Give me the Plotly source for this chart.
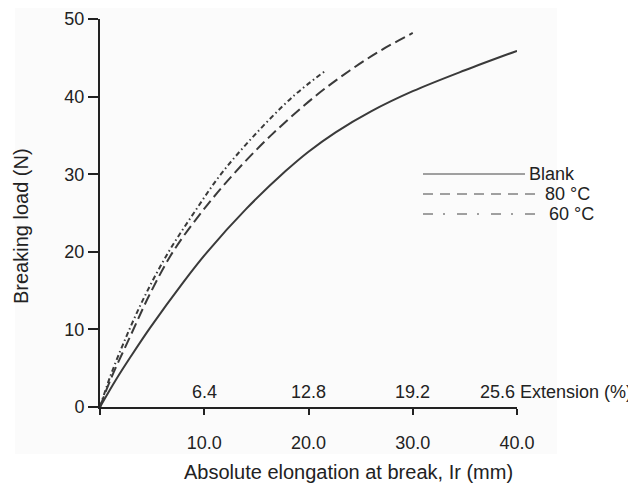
import plotly.graph_objects as go

# ---- data ----
blank_x = [0, 1.5, 3.0, 4.8, 8.0, 10.3, 14.0, 17.8, 20.0, 22.6, 26.0, 30.0, 35.0, 40.0]
blank_y = [0, 3.45, 6.6, 10.2, 16.1, 20.0, 25.5, 30.4, 32.9, 35.4, 38.1, 40.7, 43.4, 45.9]

c80_x = [0, 1.0, 3.0, 4.8, 7.0, 9.8, 12.8, 16.4, 20.6, 24.0, 27.0, 30.0]
c80_y = [0, 3.5, 9.4, 14.6, 20.0, 25.2, 30.0, 35.0, 40.0, 43.4, 46.0, 48.2]

c60_x = [0, 1.0, 2.5, 4.3, 6.5, 9.0, 11.6, 14.8, 18.5, 21.5]
c60_y = [0, 4.0, 9.0, 14.3, 19.8, 25.0, 30.0, 35.0, 40.0, 43.2]

x_ticks = [0, 10, 20, 30, 40]
x_tick_labels = ["", "10.0", "20.0", "30.0", "40.0"]
ext_ticks = [10, 20, 30]
ext_labels = ["6.4", "12.8", "19.2"]
ext_last_label = "25.6 Extension (%)"
y_ticks = [0, 10, 20, 30, 40, 50]

legend_names = ["Blank", "80 °C", "60 °C"]

FONT = "Liberation Sans, Arial, Helvetica, sans-serif"
INK = "#222222"
LINE = "#3a3a3a"

# page body has an 8px default margin; plot area in the page: x 100..517, y 19..407
PAGE_OFF = 8
PX0, PX1, PY0, PY1 = 100, 517, 19, 407
W, H = 636 - PAGE_OFF, 483 - PAGE_OFF


def px(xp):
    return (xp - PX0) / (PX1 - PX0)


def py(yp):
    return (PY1 - yp) / (PY1 - PY0)


fig = go.Figure()
fig.add_trace(go.Scatter(x=blank_x, y=blank_y, mode="lines", name=legend_names[0],
                         line=dict(color=LINE, width=2, shape="spline", smoothing=1.0)))
fig.add_trace(go.Scatter(x=c80_x, y=c80_y, mode="lines", name=legend_names[1],
                         line=dict(color=LINE, width=2, dash="11px,5px", shape="spline", smoothing=1.0)))
fig.add_trace(go.Scatter(x=c60_x, y=c60_y, mode="lines", name=legend_names[2],
                         line=dict(color=LINE, width=2, dash="5px,3px,1.5px,3px", shape="spline", smoothing=1.0)))

annotations = []
# secondary (extension %) labels above the x axis
for xv, lab in zip(ext_ticks, ext_labels):
    annotations.append(dict(x=xv, y=py(392), xref="x", yref="paper", text=lab, showarrow=False,
                            xanchor="center", yanchor="middle",
                            font=dict(family=FONT, size=18, color=INK)))
annotations.append(dict(x=36.25, y=py(392), xref="x", yref="paper", text=ext_last_label, showarrow=False,
                        xanchor="left", yanchor="middle",
                        font=dict(family=FONT, size=18, color=INK)))
# axis titles
annotations.append(dict(x=px(348), y=py(472), xref="paper", yref="paper",
                        text="Absolute elongation at break, Ir (mm)", showarrow=False,
                        xanchor="center", yanchor="middle",
                        font=dict(family=FONT, size=20, color=INK)))
annotations.append(dict(x=px(21), y=py(226), xref="paper", yref="paper",
                        text="Breaking load (N)", showarrow=False, textangle=-90,
                        xanchor="center", yanchor="middle",
                        font=dict(family=FONT, size=20, color=INK)))

# hand-drawn style legend
leg_y = [py(174), py(194), py(214)]
leg_x0 = px(423)
leg_x1 = [px(525), px(542), px(542)]
leg_tx = [px(527), px(543), px(547)]
leg_dash = ["solid", "10px,7px", "10px,10px,2px,12px"]
shapes = [dict(type="rect", xref="paper", yref="paper",
               x0=px(15), x1=px(557), y0=py(454), y1=py(PAGE_OFF),
               fillcolor="#fbfbfb", line=dict(width=0), layer="below")]
for i, name in enumerate(legend_names):
    shapes.append(dict(type="line", xref="paper", yref="paper",
                       x0=leg_x0, x1=leg_x1[i], y0=leg_y[i], y1=leg_y[i],
                       line=dict(color="#444444", width=1, dash=leg_dash[i])))
    annotations.append(dict(x=leg_tx[i], y=leg_y[i], xref="paper", yref="paper", text=name,
                            showarrow=False, xanchor="left", yanchor="middle",
                            font=dict(family=FONT, size=18, color=INK)))

fig.update_layout(
    width=W, height=H,
    margin=dict(l=PX0 - PAGE_OFF, r=W - (PX1 - PAGE_OFF), t=PY0 - PAGE_OFF,
                b=H - (PY1 - PAGE_OFF), autoexpand=False),
    paper_bgcolor="white", plot_bgcolor="rgba(0,0,0,0)",
    showlegend=False,
    font=dict(family=FONT, size=18, color=INK),
    annotations=annotations, shapes=shapes,
)
fig.update_xaxes(range=[0, 40], tickvals=x_ticks, ticktext=x_tick_labels,
                 showline=True, linecolor=INK, linewidth=2,
                 ticks="outside", ticklen=6, tickwidth=2, tickcolor=INK,
                 ticklabelstandoff=12, showgrid=False, zeroline=False,
                 tickfont=dict(family=FONT, size=18, color=INK))
fig.update_yaxes(range=[0, 50], tickvals=y_ticks,
                 showline=True, linecolor=INK, linewidth=2,
                 ticks="outside", ticklen=10, tickwidth=2, tickcolor=INK,
                 showgrid=False, zeroline=False,
                 tickfont=dict(family=FONT, size=18, color=INK))

fig.write_html("out.html")
